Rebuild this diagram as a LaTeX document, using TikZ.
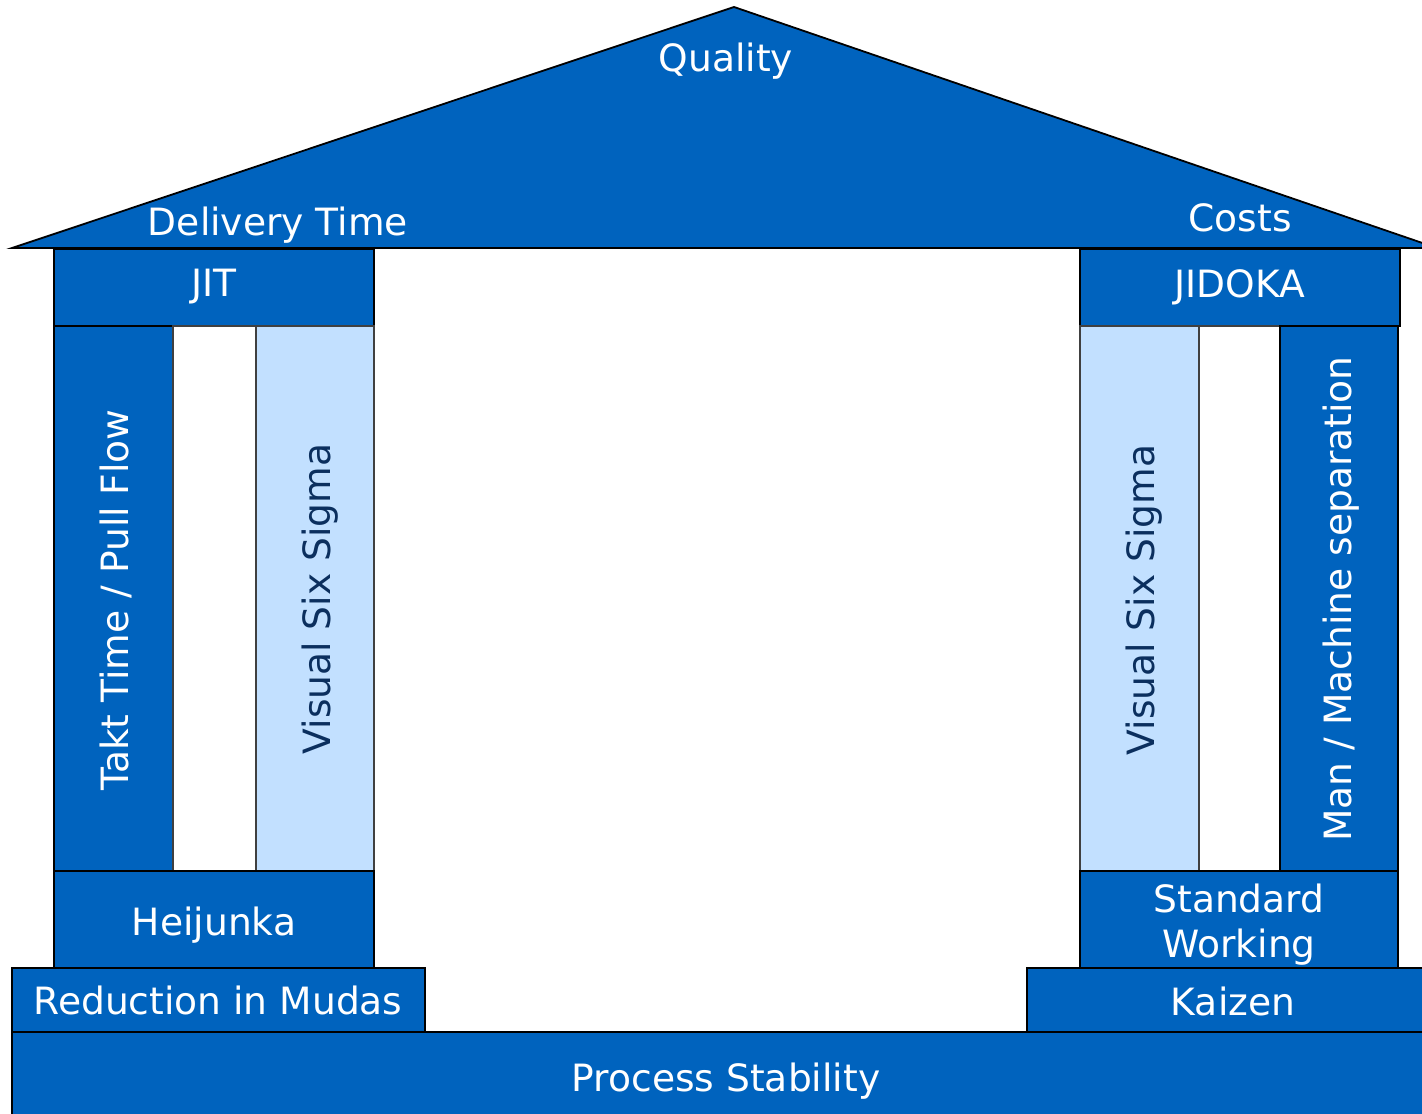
\documentclass[tikz,border=0pt]{standalone}
\usepackage{fontspec}
\setmainfont{DejaVu Sans}
\definecolor{dblue}{HTML}{0063BE}
\definecolor{lblue}{HTML}{C2E0FF}
\definecolor{navy}{HTML}{0B2F5E}
\begin{document}
\begin{tikzpicture}[x=0.5pt,y=-0.5pt,
  blk/.style={draw=black,line width=0.9pt,fill=dblue},
  lblk/.style={draw=black!75,line width=0.9pt,fill=lblue},
  lab/.style={font=\fontsize{18.8pt}{22.5pt}\selectfont,text=white,inner sep=0pt,anchor=base},
  vlab/.style={font=\fontsize{18.8pt}{22.5pt}\selectfont,text=white,inner sep=0pt,rotate=90,anchor=center},
  dlab/.style={vlab,text=navy}]
\useasboundingbox (0,0) rectangle (1422,1113);
\clip (0,0) rectangle (1422,1113);
% roof
\draw[blk] (12,248) -- (734,7) -- (1437,248) -- cycle;
% left pillar
\draw[blk] (54,249) rectangle (374,326);
\draw[blk] (54,326) rectangle (173,871);
\draw[draw=black!75,line width=0.9pt,fill=white] (173,326) rectangle (256,871);
\draw[lblk] (256,326) rectangle (374,871);
\draw[blk] (54,871) rectangle (374,968);
\draw[blk] (12,968) rectangle (425,1032);
% right pillar
\draw[blk] (1080,249) rectangle (1400,326);
\draw[lblk] (1080,326) rectangle (1199,871);
\draw[draw=black!75,line width=0.9pt,fill=white] (1199,326) rectangle (1280,871);
\draw[blk] (1280,326) rectangle (1398,871);
\draw[blk] (1080,871) rectangle (1398,968);
\draw[blk] (1027,968) rectangle (1440,1032);
% base
\draw[blk] (12,1032) rectangle (1440,1140);
% labels
\node[lab] (quality) at (726,72) {Quality};
\node[lab] (delivery) at (278,235) {Delivery Time};
\node[lab] (costs) at (1240,231) {Costs};
\node[lab] (jit) at (214,296) {JIT};
\node[lab] (jidoka) at (1240,297) {JIDOKA};
\node[vlab] (takt) at (116,600) {Takt Time / Pull Flow};
\node[dlab] (vss1) at (320,599) {Visual Six Sigma};
\node[dlab] (vss2) at (1144,600) {Visual Six Sigma};
\node[vlab] (man) at (1341,599) {Man / Machine separation};
\node[lab] (heij) at (214,935) {Heijunka};
\node[lab,align=center] (std) at (1239,957) {Standard\\Working};
\node[lab] (mudas) at (218,1014) {Reduction in Mudas};
\node[lab] (kaizen) at (1233,1015) {Kaizen};
\node[lab] (ps) at (726,1091) {Process Stability};
\end{tikzpicture}
\end{document}
